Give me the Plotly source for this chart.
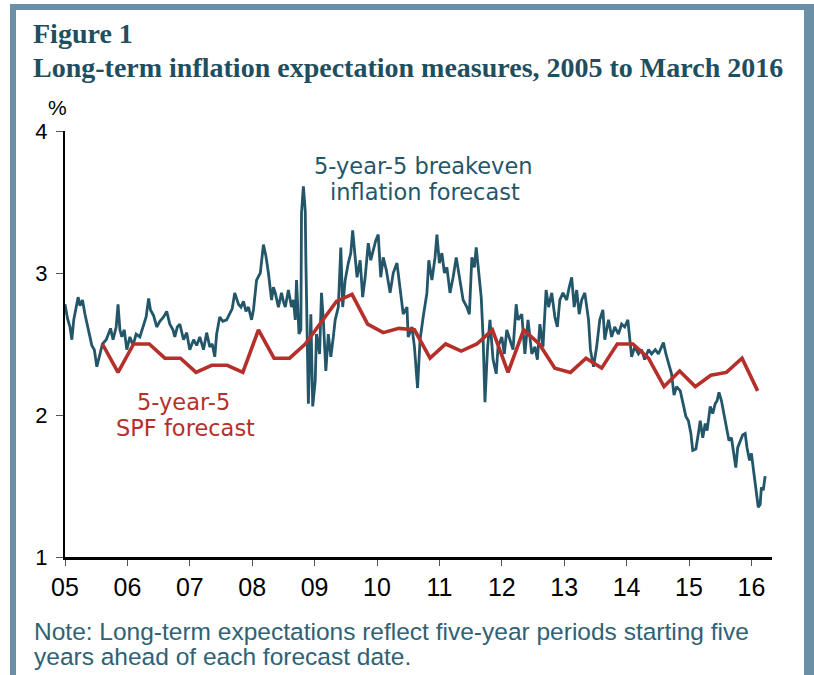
import plotly.graph_objects as go

# ---- Data ----
breakeven_dates = [
    2005.00, 2005.04, 2005.08, 2005.11, 2005.14, 2005.18, 2005.21, 2005.24, 2005.28, 2005.32,
    2005.37, 2005.43, 2005.47, 2005.51, 2005.55, 2005.60, 2005.66, 2005.69, 2005.73, 2005.77,
    2005.82, 2005.85, 2005.88, 2005.91, 2005.95, 2005.99, 2006.04, 2006.09, 2006.14, 2006.20,
    2006.25, 2006.30, 2006.34, 2006.37, 2006.42, 2006.47, 2006.52, 2006.58, 2006.63, 2006.68,
    2006.73, 2006.76, 2006.80, 2006.84, 2006.90, 2006.95, 2007.00, 2007.06, 2007.11, 2007.16,
    2007.22, 2007.27, 2007.32, 2007.36, 2007.40, 2007.43, 2007.48, 2007.53, 2007.59, 2007.64,
    2007.68, 2007.72, 2007.78, 2007.82, 2007.86, 2007.90, 2007.94, 2007.99, 2008.02, 2008.07,
    2008.10, 2008.13, 2008.18, 2008.22, 2008.26, 2008.31, 2008.34, 2008.37, 2008.42, 2008.47,
    2008.50, 2008.53, 2008.58, 2008.63, 2008.66, 2008.69, 2008.71, 2008.75, 2008.78, 2008.79,
    2008.82, 2008.85, 2008.86, 2008.90, 2008.94, 2008.97, 2009.01, 2009.03, 2009.08, 2009.11,
    2009.14, 2009.18, 2009.22, 2009.26, 2009.30, 2009.33, 2009.38, 2009.42, 2009.45, 2009.49,
    2009.54, 2009.58, 2009.61, 2009.65, 2009.68, 2009.73, 2009.77, 2009.81, 2009.86, 2009.90,
    2009.94, 2009.98, 2010.02, 2010.06, 2010.10, 2010.15, 2010.21, 2010.26, 2010.32, 2010.37,
    2010.42, 2010.48, 2010.50, 2010.56, 2010.60, 2010.65, 2010.69, 2010.74, 2010.80, 2010.83,
    2010.88, 2010.93, 2010.96, 2011.00, 2011.04, 2011.08, 2011.12, 2011.17, 2011.22, 2011.27,
    2011.33, 2011.38, 2011.44, 2011.48, 2011.52, 2011.56, 2011.59, 2011.62, 2011.67, 2011.70,
    2011.73, 2011.77, 2011.81, 2011.86, 2011.91, 2011.94, 2012.00, 2012.04, 2012.08, 2012.13,
    2012.18, 2012.23, 2012.26, 2012.32, 2012.37, 2012.42, 2012.48, 2012.53, 2012.57, 2012.61,
    2012.66, 2012.71, 2012.75, 2012.80, 2012.85, 2012.89, 2012.93, 2012.98, 2013.04, 2013.08,
    2013.12, 2013.16, 2013.20, 2013.24, 2013.28, 2013.33, 2013.39, 2013.42, 2013.47, 2013.52,
    2013.57, 2013.62, 2013.65, 2013.71, 2013.76, 2013.81, 2013.87, 2013.92, 2013.97, 2014.02,
    2014.05, 2014.08, 2014.13, 2014.19, 2014.24, 2014.29, 2014.35, 2014.40, 2014.46, 2014.51,
    2014.56, 2014.59, 2014.63, 2014.67, 2014.72, 2014.76, 2014.80, 2014.86, 2014.91, 2014.95,
    2014.99, 2015.03, 2015.06, 2015.11, 2015.15, 2015.18, 2015.22, 2015.26, 2015.29, 2015.34,
    2015.38, 2015.42, 2015.45, 2015.48, 2015.52, 2015.56, 2015.60, 2015.64, 2015.68, 2015.71,
    2015.75, 2015.78, 2015.82, 2015.86, 2015.90, 2015.93, 2015.97, 2016.00, 2016.04, 2016.07,
    2016.11, 2016.14, 2016.16, 2016.19, 2016.22,
]
breakeven_values = [
    2.78, 2.68, 2.62, 2.53, 2.67, 2.76, 2.83, 2.77, 2.81, 2.71,
    2.60, 2.49, 2.46, 2.34, 2.41, 2.50, 2.53, 2.57, 2.61, 2.53,
    2.62, 2.78, 2.60, 2.55, 2.60, 2.46, 2.55, 2.49, 2.57, 2.55,
    2.62, 2.69, 2.82, 2.74, 2.70, 2.62, 2.66, 2.69, 2.73, 2.64,
    2.60, 2.55, 2.62, 2.64, 2.53, 2.58, 2.46, 2.53, 2.49, 2.55,
    2.46, 2.58, 2.48, 2.50, 2.41, 2.57, 2.69, 2.66, 2.67, 2.71,
    2.75, 2.86, 2.78, 2.76, 2.80, 2.73, 2.76, 2.67, 2.74, 2.95,
    2.98, 3.00, 3.20, 3.12, 3.00, 2.81, 2.90, 2.86, 2.76, 2.86,
    2.80, 2.76, 2.88, 2.76, 2.81, 2.67, 2.95, 2.57, 2.60, 3.42,
    3.61, 3.44, 3.09, 2.08, 2.71, 2.06, 2.24, 2.57, 2.43, 2.86,
    2.67, 2.31, 2.57, 2.41, 2.55, 2.67, 2.76, 3.18, 2.76, 2.95,
    3.07, 3.14, 3.30, 3.09, 2.97, 3.09, 2.83, 2.97, 3.21, 3.09,
    3.16, 3.23, 3.27, 2.97, 3.11, 3.02, 2.86, 3.00, 3.07, 2.88,
    2.71, 2.76, 2.55, 2.62, 2.48, 2.19, 2.53, 2.69, 2.86, 3.09,
    2.95, 3.11, 3.27, 3.07, 3.14, 3.00, 3.04, 2.86, 2.97, 3.11,
    2.93, 2.81, 2.76, 2.71, 3.11, 3.04, 3.18, 3.04, 2.83, 2.55,
    2.09, 2.46, 2.67, 2.39, 2.29, 2.48, 2.55, 2.43, 2.60, 2.53,
    2.46, 2.78, 2.67, 2.71, 2.43, 2.67, 2.43, 2.48, 2.39, 2.64,
    2.48, 2.88, 2.76, 2.86, 2.69, 2.62, 2.81, 2.86, 2.81, 2.90,
    2.97, 2.76, 2.88, 2.71, 2.81, 2.86, 2.67, 2.46, 2.34, 2.48,
    2.67, 2.74, 2.53, 2.67, 2.55, 2.62, 2.57, 2.64, 2.62, 2.67,
    2.53, 2.41, 2.48, 2.43, 2.46, 2.39, 2.46, 2.43, 2.46, 2.43,
    2.48, 2.51, 2.43, 2.36, 2.29, 2.14, 2.20, 2.17, 2.08, 1.99,
    1.96, 1.87, 1.75, 1.76, 1.87, 1.96, 1.84, 1.94, 1.89, 2.06,
    2.01, 2.08, 2.10, 2.16, 2.10, 2.01, 1.91, 1.82, 1.84, 1.75,
    1.63, 1.77, 1.82, 1.86, 1.87, 1.77, 1.68, 1.73, 1.59, 1.47,
    1.35, 1.37, 1.49, 1.47, 1.57,
]

spf_dates = [
    2005.60, 2005.85, 2006.10, 2006.35, 2006.60, 2006.85, 2007.10, 2007.35, 2007.60, 2007.85,
    2008.10, 2008.35, 2008.60, 2008.85, 2009.10, 2009.35, 2009.60, 2009.85, 2010.10, 2010.35,
    2010.60, 2010.85, 2011.10, 2011.35, 2011.60, 2011.85, 2012.10, 2012.35, 2012.60, 2012.85,
    2013.10, 2013.35, 2013.60, 2013.85, 2014.10, 2014.35, 2014.60, 2014.85, 2015.10, 2015.35,
    2015.60, 2015.85, 2016.10,
]
spf_values = [
    2.50, 2.30, 2.50, 2.50, 2.40, 2.40, 2.30, 2.35, 2.35, 2.30,
    2.60, 2.40, 2.40, 2.50, 2.65, 2.80, 2.85, 2.64, 2.58, 2.61,
    2.60, 2.40, 2.50, 2.45, 2.50, 2.60, 2.30, 2.60, 2.50, 2.33,
    2.30, 2.40, 2.33, 2.50, 2.50, 2.40, 2.20, 2.31, 2.20, 2.28,
    2.30, 2.40, 2.17,
]

year_ticks = [2005, 2006, 2007, 2008, 2009, 2010, 2011, 2012, 2013, 2014, 2015, 2016]
year_labels = ["05", "06", "07", "08", "09", "10", "11", "12", "13", "14", "15", "16"]
y_ticks = [1, 2, 3, 4]

# ---- Styling ----
TEAL = "#24566a"
RED = "#b5302a"
FRAME = "#6b8fa6"
TITLE_C = "#1f4e5e"
NOTE_C = "#2f6274"

fig = go.Figure()
fig.add_trace(go.Scatter(x=breakeven_dates, y=breakeven_values, mode="lines",
                         line=dict(color=TEAL, width=2.8), showlegend=False))
fig.add_trace(go.Scatter(x=spf_dates, y=spf_values, mode="lines",
                         line=dict(color=RED, width=3.6), showlegend=False))

W, H = 814, 675
L, R, T, B = 65, 42, 131, 118
PW, PH = W - L - R, H - T - B

fig.update_layout(
    width=W, height=H,
    margin=dict(l=L, r=R, t=T, b=B, pad=0),
    paper_bgcolor="white", plot_bgcolor="white",
    showlegend=False,
    xaxis=dict(range=[2005, 2016.33], tickvals=year_ticks, ticktext=year_labels,
               showgrid=False, zeroline=False, showline=True, linecolor="black",
               linewidth=2.5, ticks="outside", ticklen=6, tickcolor="#555555", tickwidth=1,
               tickfont=dict(family="Liberation Sans Narrow, Arial Narrow, sans-serif",
                             size=25, color="black")),
    yaxis=dict(range=[1, 4], tickvals=y_ticks, showgrid=False, zeroline=False,
               showline=True, linecolor="black", linewidth=2, ticks="outside",
               ticklen=7, tickcolor="#555555", tickwidth=1, ticklabelstandoff=4,
               tickfont=dict(family="Liberation Sans, Arial, sans-serif", size=22,
                             color="black")),
)

def px_x(p):
    return (p - L) / PW

def px_y(p):
    return 1 - (p - T) / PH

shapes = [
    dict(type="rect", xref="paper", yref="paper", x0=px_x(10), x1=px_x(16),
         y0=px_y(675), y1=px_y(4), fillcolor=FRAME, line=dict(width=0), layer="above"),
    dict(type="rect", xref="paper", yref="paper", x0=px_x(10), x1=px_x(814),
         y0=px_y(10), y1=px_y(4), fillcolor=FRAME, line=dict(width=0), layer="above"),
    dict(type="rect", xref="paper", yref="paper", x0=px_x(804), x1=px_x(814),
         y0=px_y(675), y1=px_y(4), fillcolor=FRAME, line=dict(width=0), layer="above"),
]
fig.update_layout(shapes=shapes)

def text_at(x, y, text, size, color, family, xanchor="center", bold=False):
    return dict(xref="paper", yref="paper", x=px_x(x), y=px_y(y), xanchor=xanchor,
                yanchor="middle", showarrow=False, align="left",
                text=("<b>%s</b>" % text) if bold else text,
                font=dict(family=family, size=size, color=color))

SERIF = "Liberation Serif, Times New Roman, serif"
NARROW = "Liberation Sans Narrow, Arial Narrow, sans-serif"
VERD = "DejaVu Sans, Verdana, sans-serif"

ann = [
    text_at(31, 33, "Figure 1", 28, TITLE_C, SERIF, "left", True),
    text_at(31, 67, "Long-term inflation expectation measures, 2005 to March 2016", 28,
            TITLE_C, SERIF, "left", True),
    text_at(57, 107, "%", 21, "black", "Liberation Sans, Arial, sans-serif"),
    text_at(423, 166, "5-year-5 breakeven", 22.5, TEAL, VERD),
    text_at(425, 192, "inflation forecast", 22.5, TEAL, VERD),
    text_at(183, 402, "5-year-5", 22.5, RED, VERD),
    text_at(185, 428, "SPF forecast", 22.5, RED, VERD),
    text_at(32, 631, "Note: Long-term expectations reflect five-year periods starting five",
            24.5, NOTE_C, NARROW, "left"),
    text_at(32, 656, "years ahead of each forecast date.", 24.5, NOTE_C, NARROW, "left"),
]
fig.update_layout(annotations=ann)

fig.write_html("out.html", config={"displayModeBar": False},
               post_script="document.body.style.margin='0px';")
